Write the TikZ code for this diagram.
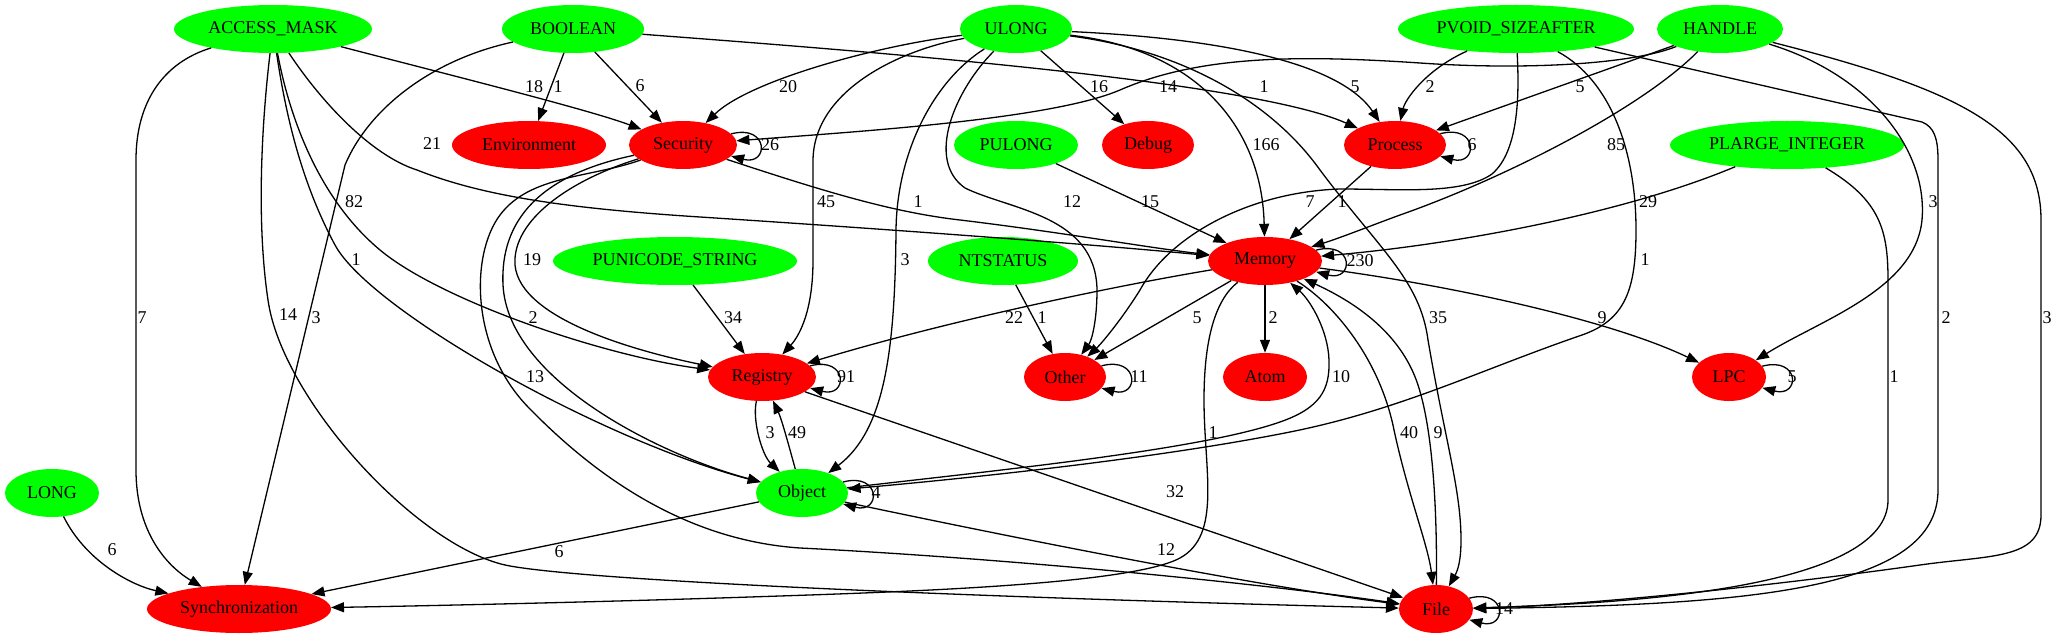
\documentclass[tikz,border=0pt]{standalone}
\usepackage{fontspec}
\setmainfont{Liberation Serif}
\usetikzlibrary{arrows.meta,shapes.geometric}
\definecolor{gnode}{RGB}{0,255,0}
\definecolor{rnode}{RGB}{255,0,0}
\begin{document}
\begin{tikzpicture}[x=1pt,y=-1pt,
  every node/.style={font=\fontsize{18}{20}\selectfont},
  nd/.style={ellipse, inner sep=0pt, inner xsep=-8pt, minimum height=48pt},
  gn/.style={nd, fill=gnode},
  rn/.style={nd, fill=rnode},
  e/.style={line width=1.3pt, -{Triangle[length=13pt,width=10pt]}},
  lbl/.style={inner sep=0pt}]
\fill[white] (0,0) rectangle (2056,639);
\useasboundingbox (0,0) rectangle (2056,639);

% nodes
\node[gn,minimum width=198pt] (AM) at (273,29) {ACCESS\_MASK};
\node[gn,minimum width=142pt] (BO) at (573,29) {BOOLEAN};
\node[gn,minimum width=112pt] (UL) at (1016,29) {ULONG};
\node[gn,minimum width=236pt] (PV) at (1516,29) {PVOID\_SIZEAFTER};
\node[gn,minimum width=126pt] (HA) at (1720,29) {HANDLE};
\node[rn,minimum width=154pt] (EN) at (529,145) {Environment};
\node[rn,minimum width=108pt] (SE) at (683,145) {Security};
\node[gn,minimum width=124pt] (PU) at (1016,145) {PULONG};
\node[rn,minimum width=92pt] (DE) at (1148,145) {Debug};
\node[rn,minimum width=102pt] (PR) at (1395,145) {Process};
\node[gn,minimum width=234pt] (PL) at (1787,145) {PLARGE\_INTEGER};
\node[gn,minimum width=244pt] (PS) at (675,261) {PUNICODE\_STRING};
\node[gn,minimum width=150pt] (NT) at (1003,261) {NTSTATUS};
\node[rn,minimum width=114pt] (ME) at (1265,261) {Memory};
\node[rn,minimum width=108pt] (RE) at (762,377) {Registry};
\node[rn,minimum width=82pt] (OT) at (1065,377) {Other};
\node[rn,minimum width=84pt] (AT) at (1265,377) {Atom};
\node[rn,minimum width=74pt] (LP) at (1729,377) {LPC};
\node[gn,minimum width=94pt] (LO) at (52,493) {LONG};
\node[gn,minimum width=92pt] (OB) at (802,493) {Object};
\node[rn,minimum width=184pt] (SY) at (239,609) {Synchronization};
\node[rn,minimum width=74pt] (FI) at (1436,609) {File};

% ACCESS_MASK
\draw[e] (AM) .. controls (165,62) and (136,100) .. (136,160) -- (136,470) .. controls (136,530) and (165,565) .. (SY) node[lbl] at (142,318) {7};
\draw[e] (AM) .. controls (450,75) and (590,110) .. (SE) node[lbl] at (534,87) {18};
\draw[e] (AM) .. controls (320,100) and (370,155) .. (417,170) .. controls (480,195) and (560,208) .. (700,217) .. controls (900,230) and (1100,245) .. (ME) node[lbl] at (432,144) {21};
\draw[e] (AM) .. controls (290,120) and (320,200) .. (380,250) .. controls (440,300) and (600,355) .. (RE) node[lbl] at (354,202) {82};
\draw[e] (AM) .. controls (285,110) and (300,180) .. (335,245) .. controls (370,310) and (600,440) .. (OB) node[lbl] at (356,260) {1};
\draw[e] (AM) .. controls (262,120) and (256,220) .. (268,300) .. controls (282,400) and (420,550) .. (510,566) .. controls (600,582) and (1000,598) .. (FI) node[lbl] at (288,315) {14};

% BOOLEAN
\draw[e] (BO) -- (EN) node[lbl] at (558,87) {1};
\draw[e] (BO) -- (SE) node[lbl] at (640,86) {6};
\draw[e] (BO) .. controls (430,60) and (368,110) .. (345,165) -- (SY) node[lbl] at (316,318) {3};
\draw[e] (BO) .. controls (850,50) and (1250,80) .. (PR) node[lbl] at (1264,87) {1};

% ULONG
\draw[e] (UL) .. controls (880,45) and (750,80) .. (SE) node[lbl] at (788,87) {20};
\draw[e] (UL) .. controls (900,50) and (814,90) .. (813,160) -- (813,260) .. controls (813,310) and (800,335) .. (RE) node[lbl] at (826,202) {45};
\draw[e] (UL) .. controls (935,80) and (897,150) .. (896,230) .. controls (895,350) and (885,430) .. (OB) node[lbl] at (905,260) {3};
\draw[e] (UL) .. controls (955,90) and (925,160) .. (965,188) .. controls (1010,210) and (1096,215) .. (1097,290) .. controls (1097,320) and (1092,340) .. (OT) node[lbl] at (1072,202) {12};
\draw[e] (UL) -- (DE) node[lbl] at (1099,87) {16};
\draw[e] (UL) .. controls (1200,50) and (1262,130) .. (ME) node[lbl] at (1266,145) {166};
\draw[e] (UL) .. controls (1250,40) and (1345,70) .. (PR) node[lbl] at (1355,87) {5};
\draw[e] (UL) .. controls (1180,50) and (1270,100) .. (1320,170) .. controls (1380,250) and (1420,280) .. (1428,340) .. controls (1445,440) and (1461,490) .. (1461,540) .. controls (1461,560) and (1458,570) .. (FI) node[lbl] at (1438,318) {35};

% PVOID_SIZEAFTER
\draw[e] (PV) .. controls (1425,70) and (1405,100) .. (PR) node[lbl] at (1430,87) {2};
\draw[e] (PV) .. controls (1519,90) and (1520,150) .. (1492,174) .. controls (1462,195) and (1400,189) .. (1340,189) .. controls (1250,192) and (1170,235) .. (1140,290) .. controls (1120,322) and (1100,345) .. (OT) node[lbl] at (1310,202) {7};
\draw[e] (PV) .. controls (1610,80) and (1636,150) .. (1636,230) .. controls (1636,290) and (1625,320) .. (1582,335) .. controls (1480,370) and (1400,410) .. (1290,432) .. controls (1150,460) and (950,480) .. (OB) node[lbl] at (1645,260) {1};
\draw[e] (PV) -- (1922,122) .. controls (1934,127) and (1938,138) .. (1938,160) -- (1938,490) .. controls (1938,590) and (1750,605) .. (FI) node[lbl] at (1946,318) {2};

% HANDLE
\draw[e] (HA) .. controls (1630,65) and (1520,70) .. (1420,63) .. controls (1300,55) and (1200,55) .. (1120,90) .. controls (1050,120) and (850,132) .. (SE) node[lbl] at (1168,87) {14};
\draw[e] (HA) -- (PR) node[lbl] at (1580,87) {5};
\draw[e] (HA) .. controls (1640,110) and (1500,180) .. (1400,215) .. controls (1370,226) and (1340,238) .. (ME) node[lbl] at (1616,145) {85};
\draw[e] (HA) .. controls (1870,75) and (1928,150) .. (1922,220) .. controls (1915,290) and (1820,320) .. (LP) node[lbl] at (1933,202) {3};
\draw[e] (HA) .. controls (1960,90) and (2041,130) .. (2041,220) -- (2041,515) .. controls (2041,560) and (1990,555) .. (1920,565) .. controls (1800,582) and (1600,605) .. (FI) node[lbl] at (2047,318) {3};

% PLARGE_INTEGER
\draw[e] (PL) .. controls (1620,215) and (1450,245) .. (ME) node[lbl] at (1648,202) {29};
\draw[e] (PL) .. controls (1880,200) and (1888,230) .. (1888,280) -- (1888,500) .. controls (1888,585) and (1650,603) .. (FI) node[lbl] at (1894,377) {1};

% Security
\draw[e] (SE.13) .. controls +(38,-10) and +(38,10) .. (SE.-13) node[lbl] at (770,145) {26};
\draw[e] (SE) .. controls (820,190) and (890,212) .. (960,220) .. controls (1060,232) and (1150,248) .. (ME) node[lbl] at (918,202) {1};
\draw[e] (SE) .. controls (570,180) and (512,220) .. (515,265) .. controls (520,320) and (640,352) .. (RE) node[lbl] at (532,260) {19};
\draw[e] (SE) .. controls (540,175) and (500,220) .. (503,285) .. controls (508,380) and (660,455) .. (OB) node[lbl] at (533,318) {2};
\draw[e] (SE) .. controls (590,178) and (530,175) .. (500,215) .. controls (470,255) and (470,350) .. (531,410) .. controls (590,470) and (680,540) .. (800,548) .. controls (1000,558) and (1250,582) .. (FI) node[lbl] at (535,377) {13};

% Registry
\draw[e] (RE.13) .. controls +(38,-10) and +(38,10) .. (RE.-13) node[lbl] at (846,377) {91};
\draw[e] (RE) .. controls (752,420) and (762,455) .. (OB) node[lbl] at (770,433) {3};
\draw[e] (OB) .. controls (790,450) and (782,420) .. (RE) node[lbl] at (797,433) {49};
\draw[e] (RE) -- (FI) node[lbl] at (1175,492) {32};

% single edges
\draw[e] (PS) -- (RE) node[lbl] at (733,318) {34};
\draw[e] (NT) -- (OT) node[lbl] at (1042,318) {1};
\draw[e] (PU) -- (ME) node[lbl] at (1150,202) {15};
\draw[e] (PR.14) .. controls +(38,-10) and +(38,10) .. (PR.-14) node[lbl] at (1472,145) {6};
\draw[e] (PR) -- (ME) node[lbl] at (1342,202) {1};

% Memory
\draw[e] (ME.12) .. controls +(38,-10) and +(38,10) .. (ME.-12) node[lbl] at (1360,261) {230};
\draw[e] (ME) .. controls (1120,285) and (950,320) .. (RE) node[lbl] at (1014,318) {22};
\draw[e] (ME) -- (OT) node[lbl] at (1197,318) {5};
\draw[e] (ME) -- (AT) node[lbl] at (1273,318) {2};
\draw[e] (ME) .. controls (1215,300) and (1204,340) .. (1204,400) .. controls (1204,470) and (1222,535) .. (1180,558) .. controls (1130,585) and (900,592) .. (750,597) .. controls (600,602) and (420,606) .. (SY) node[lbl] at (1213,433) {1};
\draw[e] (ME) .. controls (1450,285) and (1610,320) .. (LP) node[lbl] at (1602,318) {9};
\draw[e] (ME) .. controls (1335,305) and (1380,360) .. (1394,430) .. controls (1408,495) and (1428,545) .. (FI) node[lbl] at (1409,433) {40};

% Object
\draw[e] (OB) .. controls (1000,470) and (1200,450) .. (1280,422) .. controls (1320,408) and (1330,390) .. (1329,360) .. controls (1328,330) and (1310,300) .. (ME) node[lbl] at (1341,377) {10};
\draw[e] (OB.15) .. controls +(38,-10) and +(38,10) .. (OB.-15) node[lbl] at (876,493) {4};
\draw[e] (OB) -- (SY) node[lbl] at (559,552) {6};
\draw[e] (OB) .. controls (1000,535) and (1250,585) .. (FI) node[lbl] at (1166,550) {12};

% File
\draw[e] (FI) .. controls (1437,540) and (1436,440) .. (1418,385) .. controls (1400,330) and (1350,300) .. (ME) node[lbl] at (1438,433) {9};
\draw[e] (FI.18) .. controls +(38,-10) and +(38,10) .. (FI.-18) node[lbl] at (1504,609) {14};

% LONG, Other, LPC
\draw[e] (LO) .. controls (85,560) and (130,585) .. (SY) node[lbl] at (112,550) {6};
\draw[e] (OT.17) .. controls +(38,-10) and +(38,10) .. (OT.-17) node[lbl] at (1139,377) {11};
\draw[e] (LP.18) .. controls +(38,-10) and +(38,10) .. (LP.-18) node[lbl] at (1792,377) {5};
\end{tikzpicture}
\end{document}
